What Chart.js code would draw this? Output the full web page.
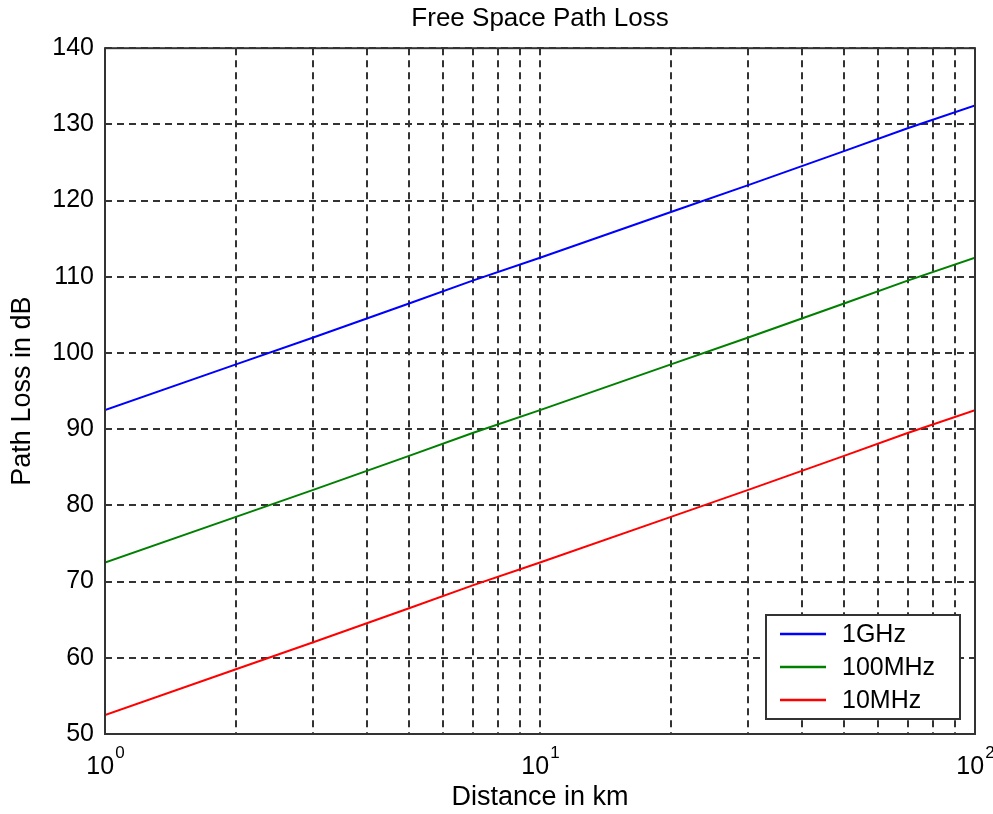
<!DOCTYPE html>
<html lang="en">
<head>
    <meta charset="UTF-8">
    <title>Free Space Path Loss</title>
    <script src="https://cdn.jsdelivr.net/npm/chart.js"></script>
    <style>
        body {
            margin: 0;
            padding: 0;
            background: #fff;
        }
        .chart-container {
            width: 993px;
            height: 814px;
        }
    </style>
</head>
<body>
    <div class="chart-container">
        <canvas id="pathLossChart"></canvas>
    </div>

    <script>
        // values (distance in km, loss in dB)
        const distances = [1, 2, 3, 5, 7, 10, 20, 30, 50, 70, 100];
        const loss1GHz = [92.5, 98.5, 102, 106.5, 109.5, 112.5, 118.5, 122, 126.5, 129.5, 132.5];
        const loss100MHz = [72.5, 78.5, 82, 86.5, 89.5, 92.5, 98.5, 102, 106.5, 109.5, 112.5];
        const loss10MHz = [52.5, 58.5, 62, 66.5, 69.5, 72.5, 78.5, 82, 86.5, 89.5, 92.5];
        const seriesNames = ['1GHz', '100MHz', '10MHz'];
        const seriesColors = ['#0000ff', '#008000', '#ff0000'];
        const xGridValues = [1, 2, 3, 4, 5, 6, 7, 8, 9, 10, 20, 30, 40, 50, 60, 70, 80, 90, 100];
        const xTickLabels = { 1: ['10', '0'], 10: ['10', '1'], 100: ['10', '2'] };

        const fontFamily = "'Liberation Sans', Arial, sans-serif";
        const gridColor = '#333';

        const toPoints = (ys) => ys.map((y, i) => ({ x: distances[i], y: y }));

        // solid frame, 10^n tick labels with raised exponent, boxed legend lower right
        const frameAndLegend = {
            id: 'frameAndLegend',
            afterDraw(chart) {
                const ctx = chart.ctx;
                const a = chart.chartArea;
                ctx.save();
                ctx.setLineDash([]);
                ctx.strokeStyle = gridColor;
                ctx.lineWidth = 2;
                ctx.strokeRect(a.left, a.top, a.right - a.left, a.bottom - a.top);

                // x tick labels
                const xs = chart.scales.x;
                ctx.fillStyle = '#000';
                ctx.textBaseline = 'alphabetic';
                ctx.textAlign = 'left';
                Object.keys(xTickLabels).forEach((v) => {
                    const [base, exp] = xTickLabels[v];
                    const px = xs.getPixelForValue(Number(v));
                    ctx.font = '25px ' + fontFamily;
                    const wb = ctx.measureText(base).width;
                    ctx.font = '17px ' + fontFamily;
                    const we = ctx.measureText(exp).width;
                    const x0 = px - (wb + we) / 2;
                    ctx.font = '25px ' + fontFamily;
                    ctx.fillText(base, x0, a.bottom + 40);
                    ctx.font = '17px ' + fontFamily;
                    ctx.fillText(exp, x0 + wb + 1, a.bottom + 24);
                });

                // legend
                const w = 194, h = 104;
                const bx = a.right - 15 - w;
                const by = a.bottom - 15 - h;
                ctx.fillStyle = '#fff';
                ctx.fillRect(bx, by, w, h);
                ctx.strokeStyle = gridColor;
                ctx.strokeRect(bx, by, w, h);

                ctx.font = '25px ' + fontFamily;
                ctx.textBaseline = 'middle';
                chart.data.datasets.forEach((ds, i) => {
                    const y = by + 19 + i * 33;
                    ctx.strokeStyle = ds.borderColor;
                    ctx.lineWidth = 2.5;
                    ctx.beginPath();
                    ctx.moveTo(bx + 14, y);
                    ctx.lineTo(bx + 60, y);
                    ctx.stroke();
                    ctx.fillStyle = '#000';
                    ctx.fillText(ds.label, bx + 76, y + 1);
                });
                ctx.restore();
            }
        };

        const ctx = document.getElementById('pathLossChart').getContext('2d');
        const pathLossChart = new Chart(ctx, {
            type: 'line',
            data: {
                datasets: [loss1GHz, loss100MHz, loss10MHz].map((ys, i) => ({
                    label: seriesNames[i],
                    data: toPoints(ys),
                    borderColor: seriesColors[i],
                    backgroundColor: seriesColors[i],
                    borderWidth: 2,
                    pointRadius: 0,
                    tension: 0
                }))
            },
            options: {
                responsive: true,
                maintainAspectRatio: false,
                animation: false,
                layout: {
                    padding: { left: 0, right: 18, top: 0, bottom: 0 }
                },
                plugins: {
                    legend: { display: false },
                    tooltip: { enabled: false },
                    title: {
                        display: true,
                        fullSize: false,
                        text: 'Free Space Path Loss',
                        color: '#000',
                        font: { family: fontFamily, size: 26, weight: 'normal' },
                        padding: { top: 3, bottom: 14 }
                    }
                },
                scales: {
                    x: {
                        type: 'logarithmic',
                        min: 1,
                        max: 100,
                        afterBuildTicks: (scale) => {
                            scale.ticks = xGridValues.map((v) => ({ value: v }));
                        },
                        afterFit: (scale) => {
                            scale.height = 80;
                            scale.paddingRight = 0;
                            scale.paddingLeft = 0;
                        },
                        border: { display: false, dash: [7, 5] },
                        grid: { color: gridColor, lineWidth: 2, drawTicks: false },
                        ticks: {
                            autoSkip: false,
                            maxRotation: 0,
                            padding: 12,
                            color: 'rgba(0,0,0,0)',
                            font: { family: fontFamily, size: 25 },
                            callback: (value) => xTickLabels[value] ? xTickLabels[value][0] : ''
                        },
                        title: {
                            display: true,
                            text: 'Distance in km',
                            color: '#000',
                            font: { family: fontFamily, size: 27 },
                            padding: { top: 4, bottom: 0 }
                        }
                    },
                    y: {
                        min: 50,
                        max: 140,
                        afterFit: (scale) => { scale.width = 105; },
                        border: { display: false, dash: [7, 5] },
                        grid: { color: gridColor, lineWidth: 2, drawTicks: false },
                        ticks: {
                            stepSize: 10,
                            padding: 11,
                            color: '#000',
                            font: { family: fontFamily, size: 25 }
                        },
                        title: {
                            display: true,
                            text: 'Path Loss in dB',
                            color: '#000',
                            font: { family: fontFamily, size: 27 },
                            padding: { top: 6, bottom: 0 }
                        }
                    }
                }
            },
            plugins: [frameAndLegend]
        });
    </script>
</body>
</html>
